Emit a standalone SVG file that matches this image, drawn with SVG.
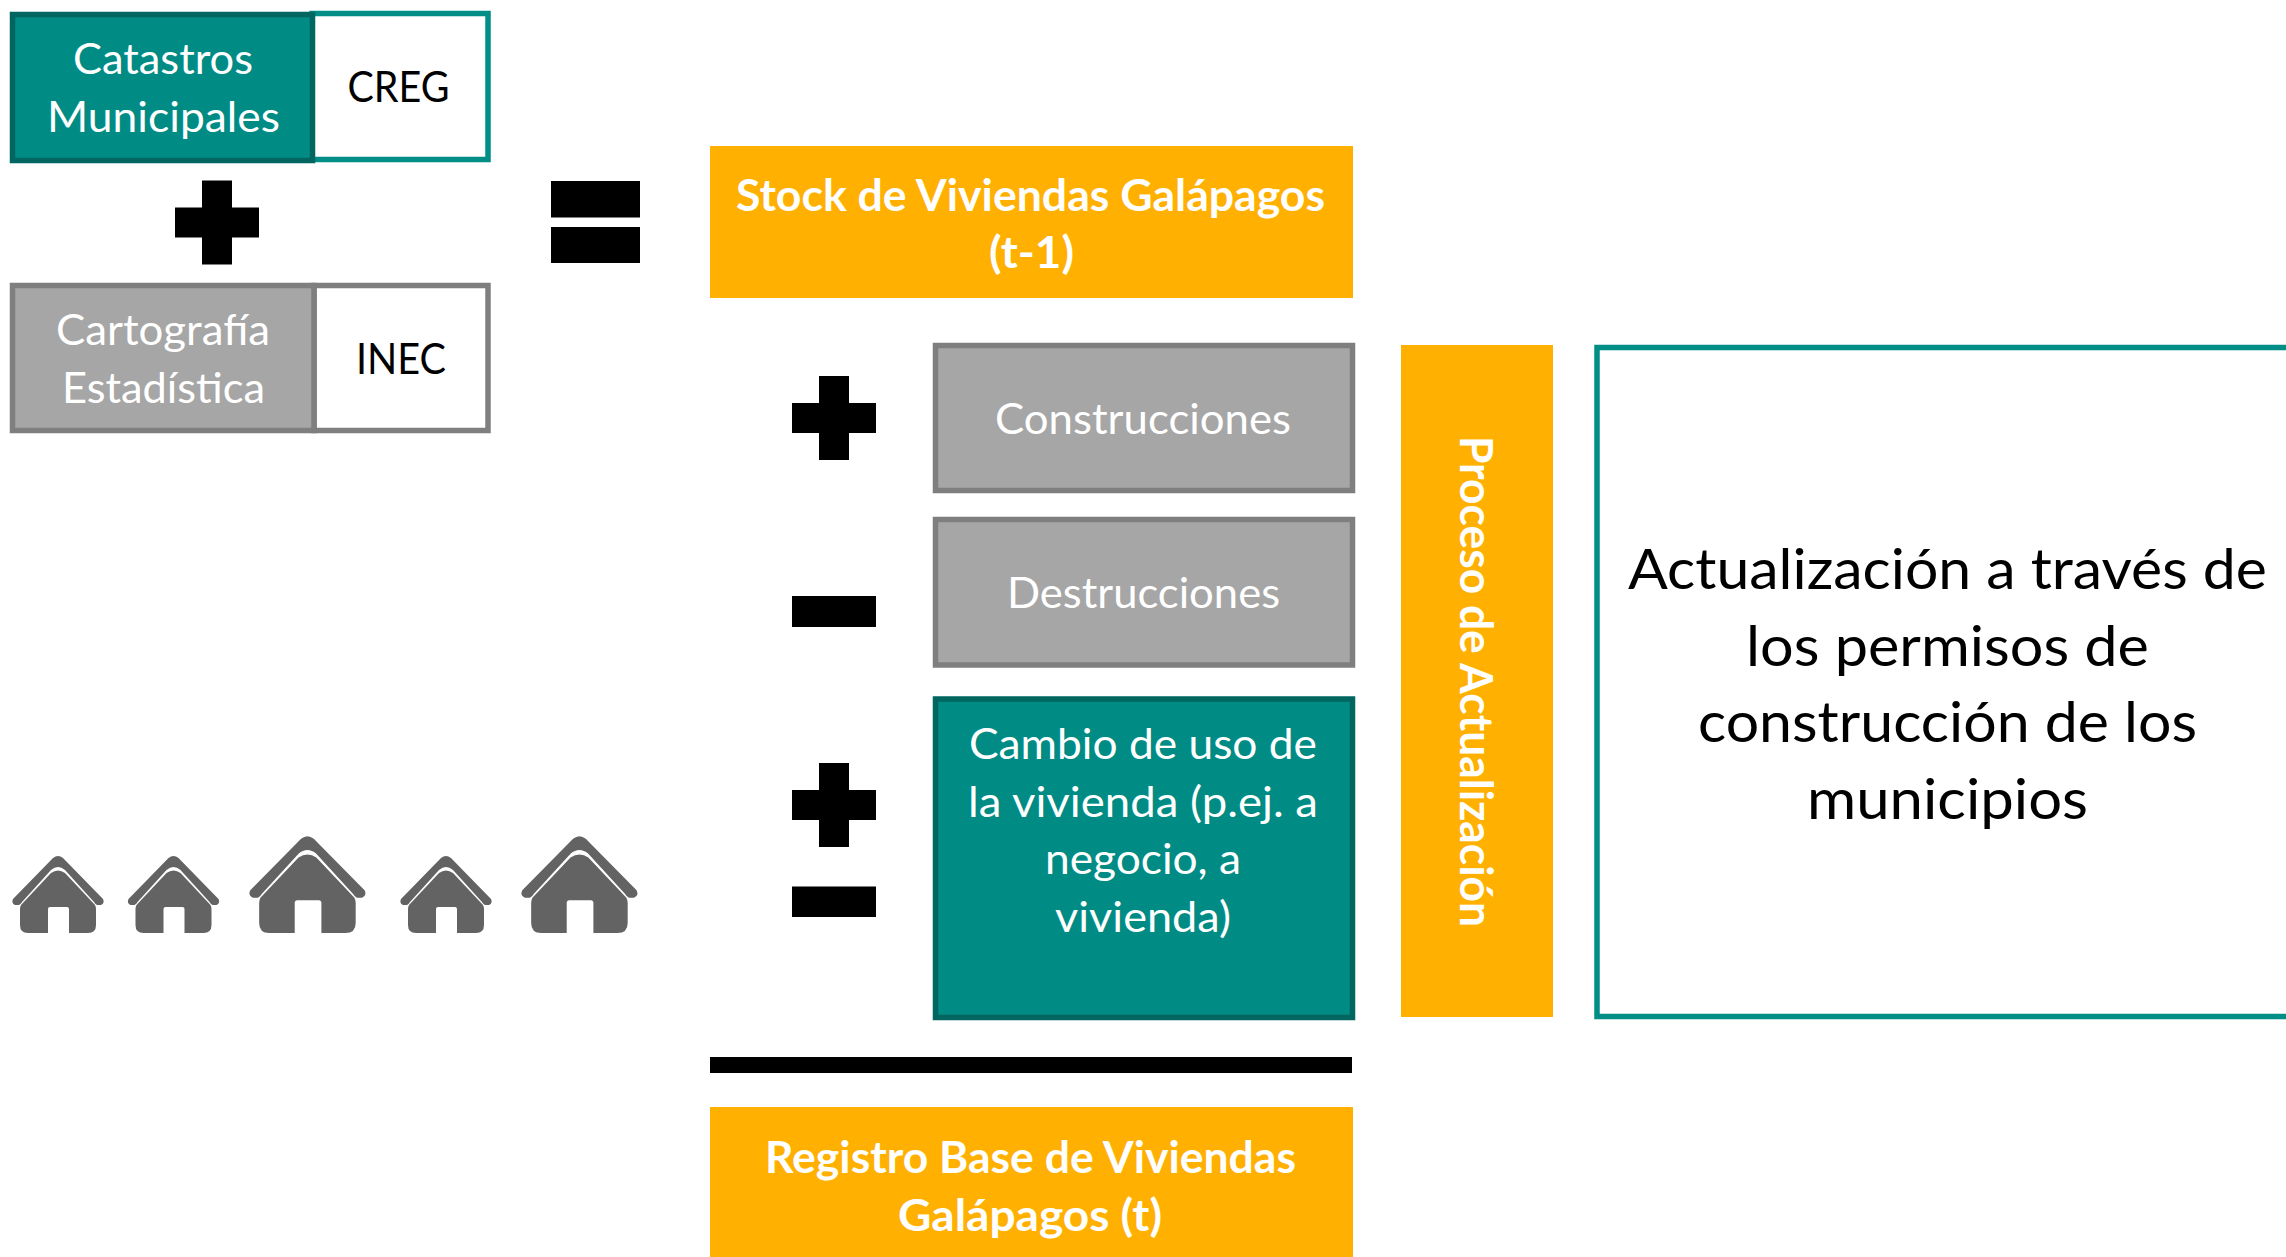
<svg xmlns="http://www.w3.org/2000/svg" xmlns:xlink="http://www.w3.org/1999/xlink" width="2286" height="1257" viewBox="0 0 2286 1257">
<style>
text{font-family:"Lato","Open Sans","Liberation Sans",sans-serif;font-size:43px;fill:#fff}
.k{fill:#000}.b{font-weight:700}.big{font-size:57px;fill:#000}
.teal{fill:#008C85;stroke:#00665F;stroke-width:5.500}
.gray{fill:#A6A6A6;stroke:#7F7F7F;stroke-width:5.500}
.wt{fill:#fff;stroke:#008E86;stroke-width:5.500}
.wg{fill:#fff;stroke:#7F7F7F;stroke-width:5.500}
.or{fill:#FFB000}
</style>
<defs>
<g id="h" fill="#636363">
<path d="M41 3Q46-1 51 3L91 44Q93 48 89 50L85 50Q83 49 82 47L53 15Q46 9 39 15L10 47Q9 49 7 50L3 50Q-1 48 1 44Z"/>
<path d="M39 18Q46 13 53 18L83 50Q84 52 84 54L84 70Q84 78 76 78L57 78L57 54Q57 52 55 52L38 52Q36 52 36 54L36 78L16 78Q8 78 8 70L8 54Q8 52 9 50Z"/>
</g>
<path id="plus" d="M27 0H57V27H84V57H57V84H27V57H0V27H27Z"/>
</defs>
<rect width="2286" height="1257" fill="#fff"/>
<g id="node-creg"><rect class="wt" x="312" y="13.500" width="176" height="146"/><text class="k" x="347.500" y="102" textLength="102" lengthAdjust="spacingAndGlyphs">CREG</text></g>
<g id="node-catastros"><rect class="teal" x="12.500" y="14.500" width="300" height="146"/><text x="73" y="74" textLength="180" lengthAdjust="spacingAndGlyphs">Catastros</text><text x="47" y="132" textLength="233" lengthAdjust="spacingAndGlyphs">Municipales</text></g>
<g id="node-inec"><rect class="wg" x="314" y="285.500" width="174" height="145"/><text class="k" x="356" y="374" textLength="90" lengthAdjust="spacingAndGlyphs">INEC</text></g>
<g id="node-cartografia"><rect class="gray" x="12.500" y="285.500" width="301.500" height="145"/><text x="56" y="345" textLength="214" lengthAdjust="spacingAndGlyphs">Cartografía</text><text x="62" y="403" textLength="203" lengthAdjust="spacingAndGlyphs">Estadística</text></g>
<g id="op-plus-1"><use xlink:href="#plus" x="175" y="180.500"/></g>
<g id="op-equals"><rect x="551" y="181" width="89" height="36.500"/><rect x="551" y="227" width="89" height="36"/></g>
<g id="node-stock"><rect class="or" x="710" y="146" width="643" height="152"/><text class="b" x="736" y="211" textLength="589" lengthAdjust="spacingAndGlyphs">Stock de Viviendas Galápagos</text><text class="b" x="989" y="268" textLength="85" lengthAdjust="spacingAndGlyphs">(t-1)</text></g>
<g id="op-plus-2"><use xlink:href="#plus" x="792" y="376"/></g>
<g id="op-minus-1"><rect x="792" y="596" width="84" height="31"/></g>
<g id="op-plus-3"><use xlink:href="#plus" x="792" y="763"/></g>
<g id="op-minus-2"><rect x="792" y="886.500" width="84" height="30.500"/></g>
<g id="node-construcciones"><rect class="gray" x="935.500" y="345.500" width="417" height="145"/><text x="995" y="434" textLength="296" lengthAdjust="spacingAndGlyphs">Construcciones</text></g>
<g id="node-destrucciones"><rect class="gray" x="935.500" y="519.500" width="417" height="145.500"/><text x="1007" y="608" textLength="273" lengthAdjust="spacingAndGlyphs">Destrucciones</text></g>
<g id="node-cambio"><rect class="teal" x="935.500" y="699" width="417" height="318.500"/><text x="969" y="759" textLength="348" lengthAdjust="spacingAndGlyphs">Cambio de uso de</text><text x="968" y="817" textLength="350" lengthAdjust="spacingAndGlyphs">la vivienda (p.ej. a</text><text x="1045" y="874" textLength="196" lengthAdjust="spacingAndGlyphs">negocio, a</text><text x="1055" y="932" textLength="176" lengthAdjust="spacingAndGlyphs">vivienda)</text></g>
<g id="node-proceso"><rect class="or" x="1401" y="345" width="152" height="672"/><text class="b" style="font-size:45px" transform="translate(1460 436) rotate(90)" textLength="491" lengthAdjust="spacingAndGlyphs">Proceso de Actualización</text></g>
<g id="node-actualizacion"><rect class="wt" x="1597" y="347.500" width="700" height="669"/><text class="big" x="1628" y="589" textLength="639" lengthAdjust="spacingAndGlyphs">Actualización a través de</text><text class="big" x="1746" y="665.500" textLength="403" lengthAdjust="spacingAndGlyphs">los permisos de</text><text class="big" x="1698" y="742" textLength="499" lengthAdjust="spacingAndGlyphs">construcción de los</text><text class="big" x="1807" y="819" textLength="281" lengthAdjust="spacingAndGlyphs">municipios</text></g>
<g id="node-houses">
<use xlink:href="#h" transform="translate(12 855)"/>
<use xlink:href="#h" transform="translate(127.500 855)"/>
<use xlink:href="#h" transform="translate(249 835) scale(1.27 1.256)"/>
<use xlink:href="#h" transform="translate(400 855)"/>
<use xlink:href="#h" transform="translate(521 835) scale(1.27 1.256)"/>
</g>
<g id="connectors"><rect x="710" y="1057" width="642" height="16"/></g>
<g id="node-registro"><rect class="or" x="710" y="1107" width="643" height="150"/><text class="b" x="765" y="1173" textLength="531" lengthAdjust="spacingAndGlyphs">Registro Base de Viviendas</text><text class="b" x="898" y="1231" textLength="264" lengthAdjust="spacingAndGlyphs">Galápagos (t)</text></g>
</svg>
